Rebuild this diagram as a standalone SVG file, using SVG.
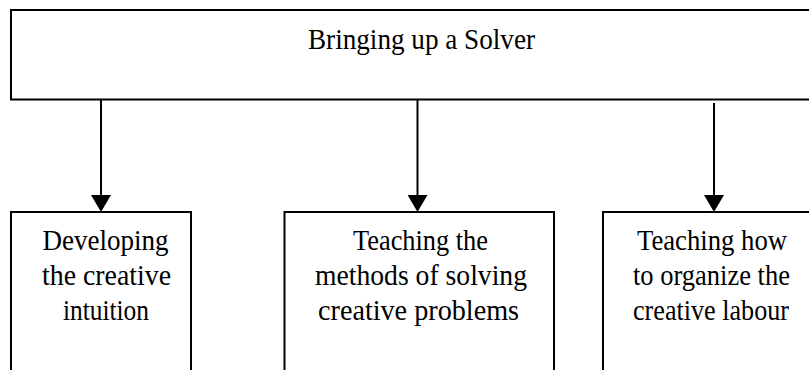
<svg xmlns="http://www.w3.org/2000/svg" width="809" height="370" viewBox="0 0 809 370">
  <style>
    .box { fill: #ffffff; stroke: #000000; stroke-width: 2; }
    .lbl { font-family: "Liberation Serif", "Times New Roman", serif; font-size: 29px; fill: #000000; text-anchor: middle; }
    .conn { stroke: #000000; stroke-width: 2; fill: none; marker-end: url(#arrow); }
  </style>
  <defs>
    <marker id="arrow" viewBox="0 0 17 20" markerWidth="17" markerHeight="20" refX="0" refY="10" markerUnits="userSpaceOnUse" orient="auto">
      <path d="M0,0 L17,10 L0,20 z" fill="#000000"/>
    </marker>
  </defs>
  <rect width="809" height="370" fill="#ffffff"/>

  <g id="node-root">
    <rect class="box" x="11" y="10" width="840" height="89.5"/>
    <text class="lbl" x="421.5" y="49" textLength="227" lengthAdjust="spacingAndGlyphs">Bringing up a Solver</text>
  </g>

  <g id="node-intuition">
    <rect class="box" x="11" y="212" width="180" height="200"/>
    <text class="lbl" x="105.5" y="250" textLength="126" lengthAdjust="spacingAndGlyphs">Developing</text>
    <text class="lbl" x="106.5" y="285" textLength="129" lengthAdjust="spacingAndGlyphs">the creative</text>
    <text class="lbl" x="106" y="320" textLength="86" lengthAdjust="spacingAndGlyphs">intuition</text>
  </g>

  <g id="node-methods">
    <rect class="box" x="284.5" y="212" width="269.5" height="200"/>
    <text class="lbl" x="420.5" y="250" textLength="135" lengthAdjust="spacingAndGlyphs">Teaching the</text>
    <text class="lbl" x="421" y="285" textLength="212" lengthAdjust="spacingAndGlyphs">methods of solving</text>
    <text class="lbl" x="418.5" y="320" textLength="201" lengthAdjust="spacingAndGlyphs">creative problems</text>
  </g>

  <g id="node-labour">
    <rect class="box" x="603" y="212" width="240" height="200"/>
    <text class="lbl" x="712" y="250" textLength="150" lengthAdjust="spacingAndGlyphs">Teaching how</text>
    <text class="lbl" x="711.5" y="285" textLength="157" lengthAdjust="spacingAndGlyphs">to organize the</text>
    <text class="lbl" x="711" y="320" textLength="156" lengthAdjust="spacingAndGlyphs">creative labour</text>
  </g>

  <g id="connectors">
    <line class="conn" x1="101" y1="100" x2="101" y2="195"/>
    <line class="conn" x1="417.5" y1="100" x2="417.5" y2="195"/>
    <line class="conn" x1="714" y1="103" x2="714" y2="195"/>
  </g>
</svg>
